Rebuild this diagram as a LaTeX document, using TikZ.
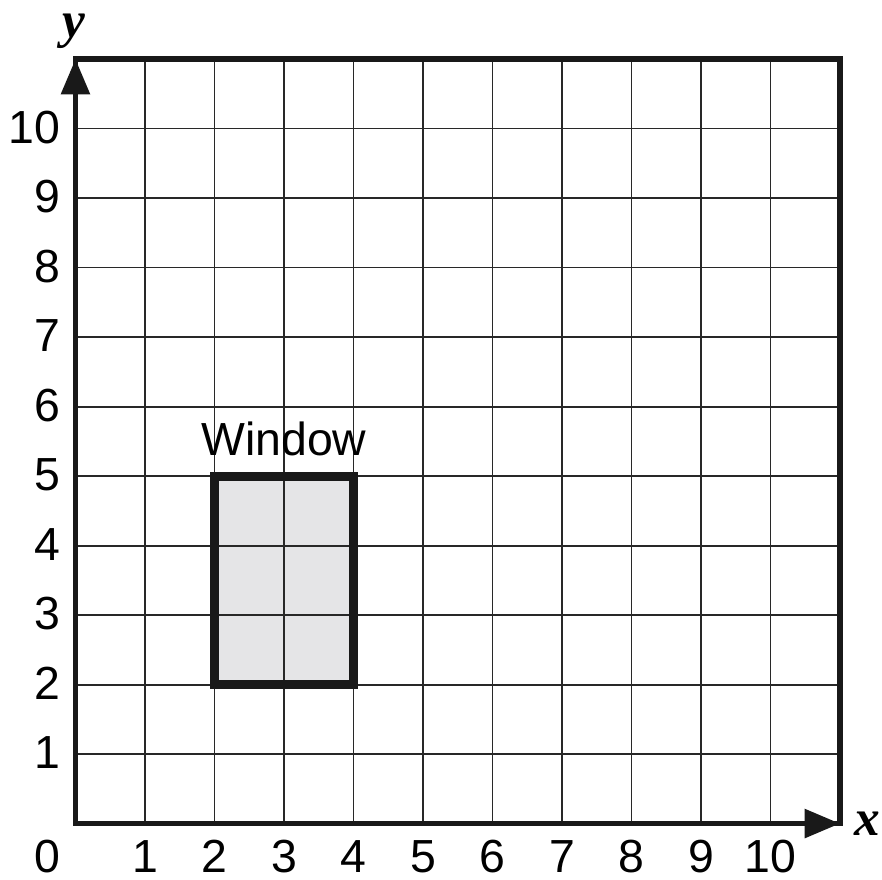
\documentclass[tikz,border=0pt]{standalone}
\usepackage{fontspec}
\setmainfont{Liberation Sans}
\newfontfamily\axisfont{Liberation Serif}
\usetikzlibrary{arrows.meta}
\definecolor{winfill}{RGB}{229,229,231}
\definecolor{gridcol}{RGB}{40,40,40}
\begin{document}
\begin{tikzpicture}[x=1cm,y=1cm,
  gridline/.style={draw=gridcol,line width=0.8pt},
  frameline/.style={draw=black!90,line width=2.3pt,line join=miter},
  axisarrow/.style={draw=black!90,line width=2.3pt,-{Triangle[length=14.5pt,width=11.5pt]}},
  winbox/.style={draw=black!90,line width=3.7pt,line join=miter},
  numlabel/.style={inner sep=0pt,font=\fontsize{19}{22}\selectfont},
  axislabel/.style={inner sep=0pt,font=\fontsize{21}{24}\selectfont\axisfont\bfseries\itshape}]
\useasboundingbox (-1.086,-0.799) rectangle (11.604,11.849);
% window fill
\fill[winfill] (2,2) rectangle (4,5);
% grid
\draw[gridline] (0,0) grid (11,11);
% frame
\draw[frameline] (0,0) rectangle (11,11);
% window outline
\draw[winbox] (2,2) rectangle (4,5);
% axes
\coordinate (O) at (0,0);
\coordinate (xend) at (11,0);
\coordinate (yend) at (0,11);
\draw[axisarrow] (O) -- (xend);
\draw[axisarrow] (O) -- (yend);
% labels
\node[numlabel,anchor=base] (x0) at (-0.40,-0.71) {0};
\foreach \k in {1,...,10}{
  \node[numlabel,anchor=base] (xl\k) at (\k,-0.71) {\k};
  \node[numlabel,anchor=base east] (yl\k) at (-0.216,\k-0.21) {\k};
}
\node[numlabel,anchor=base] (window) at (3,5.30) {Window};
\node[axislabel,anchor=base] (xlab) at (11.39,-0.165) {x};
\node[axislabel,anchor=base] (ylab) at (-0.03,11.31) {y};
\end{tikzpicture}
\end{document}
